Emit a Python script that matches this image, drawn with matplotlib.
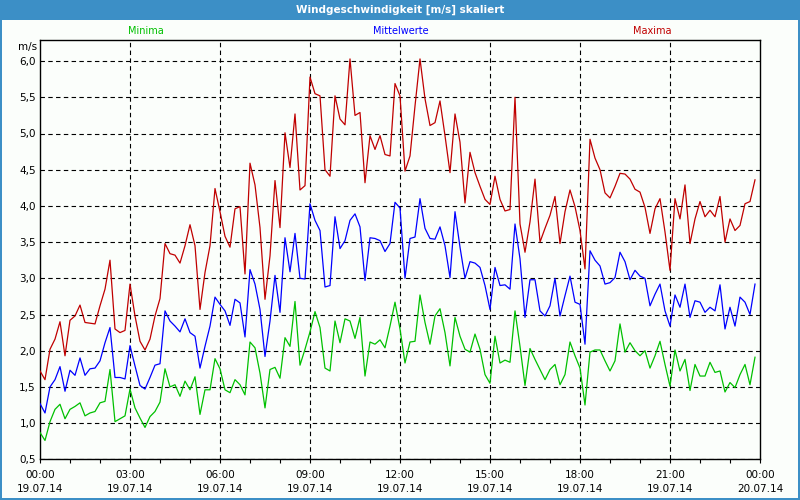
import numpy as np
import matplotlib
matplotlib.use("Agg")
import matplotlib.pyplot as plt
from matplotlib.patches import Rectangle

plt.rcParams['font.family'] = ['DejaVu Sans']

# 10-minute values, 19.07.14 00:00 .. 23:50
minima = [0.87,0.76,1.02,1.19,1.26,1.06,1.19,1.23,1.28,1.10,1.14,1.16,1.28,1.30,1.74,1.02,1.06,1.10,1.47,1.21,1.07,0.94,1.09,1.16,1.29,
          1.75,1.50,1.53,1.37,1.58,1.46,1.64,1.12,1.46,1.46,1.89,1.75,1.46,1.42,1.60,1.53,1.39,2.12,2.04,1.69,1.21,1.74,1.77,
          1.62,2.18,2.06,2.68,1.80,2.02,2.26,2.54,2.32,1.76,1.72,2.41,2.11,2.44,2.41,2.17,2.46,1.65,2.12,2.09,2.15,2.04,2.34,2.67,2.30,
          1.83,2.12,2.13,2.77,2.39,2.09,2.48,2.58,2.25,1.79,2.46,2.20,2.02,1.98,2.23,2.02,1.67,1.55,2.20,1.83,1.87,1.84,2.55,2.06,
          1.52,2.03,1.88,1.74,1.60,1.74,1.81,1.53,1.67,2.12,1.93,1.76,1.25,1.98,2.01,
          2.01,1.86,1.72,1.86,2.37,1.98,2.11,2.00,1.93,2.00,1.76,1.93,2.13,1.81,1.51,2.01,1.72,1.88,1.45,1.81,1.65,1.65,1.84,1.70,
          1.72,1.43,1.56,1.49,1.67,1.81,1.53,1.91]
mittel = [1.27,1.14,1.50,1.60,1.78,1.44,1.73,1.66,1.90,1.66,1.75,1.76,1.86,2.11,2.32,1.63,1.63,1.61,2.07,1.79,1.52,1.47,1.63,1.80,1.82,
          2.55,2.41,2.34,2.26,2.44,2.25,2.20,1.76,2.06,2.34,2.74,2.64,2.55,2.35,2.71,2.66,2.19,3.12,2.92,2.57,1.92,2.41,3.04,
          2.53,3.56,3.09,3.62,3.00,2.99,4.03,3.80,3.66,2.88,2.90,3.85,3.41,3.52,3.80,3.89,3.71,2.97,3.56,3.55,3.52,3.37,3.48,4.05,3.97,
          3.00,3.55,3.57,4.10,3.69,3.55,3.54,3.71,3.45,3.01,3.92,3.43,3.00,3.23,3.21,3.15,2.90,2.57,3.15,2.90,2.91,2.85,3.75,3.27,
          2.46,2.98,2.98,2.55,2.48,2.62,3.00,2.48,2.76,3.03,2.67,2.64,2.09,3.38,3.25,
          3.17,2.92,2.94,3.01,3.36,3.23,2.98,3.11,3.03,3.00,2.62,2.78,2.92,2.55,2.34,2.77,2.60,2.92,2.46,2.69,2.67,2.53,2.60,2.55,
          2.91,2.30,2.60,2.34,2.74,2.67,2.50,2.92]
maxima = [1.72,1.60,2.02,2.16,2.40,1.93,2.42,2.48,2.63,2.39,2.38,2.37,2.62,2.85,3.25,2.30,2.25,2.28,2.92,2.48,2.13,2.01,2.16,2.48,2.72,
          3.48,3.34,3.32,3.21,3.45,3.74,3.45,2.57,3.08,3.45,4.24,3.92,3.58,3.43,3.96,3.99,3.06,4.59,4.29,3.70,2.71,3.31,4.35,
          3.70,5.01,4.53,5.27,4.22,4.28,5.78,5.55,5.52,4.50,4.41,5.52,5.20,5.12,6.03,5.25,5.29,4.32,4.97,4.78,4.97,4.71,4.69,5.69,5.52,
          4.48,4.69,5.38,6.03,5.48,5.11,5.15,5.45,4.97,4.46,5.27,4.88,4.04,4.74,4.46,4.27,4.09,4.02,4.41,4.09,3.93,3.95,5.50,3.75,
          3.36,3.78,4.37,3.50,3.69,3.87,4.13,3.48,3.92,4.22,3.99,3.66,3.13,4.92,4.66,
          4.50,4.18,4.11,4.27,4.45,4.44,4.37,4.23,4.19,3.98,3.62,3.96,4.10,3.64,3.11,4.10,3.82,4.29,3.48,3.82,4.06,3.85,3.94,3.85,
          4.13,3.50,3.82,3.66,3.73,4.03,4.06,4.36]
tick_hours = [0, 3, 6, 9, 12, 15, 18, 21, 24]
tick_labels = ["00:00\n19.07.14", "03:00\n19.07.14", "06:00\n19.07.14", "09:00\n19.07.14",
               "12:00\n19.07.14", "15:00\n19.07.14", "18:00\n19.07.14", "21:00\n19.07.14",
               "00:00\n20.07.14"]
y_ticks = [0.5, 1.0, 1.5, 2.0, 2.5, 3.0, 3.5, 4.0, 4.5, 5.0, 5.5, 6.0]

hours = np.arange(len(mittel)) / 6.0

frame_c = "#3c8fc6"
panel_c = "#fbfefb"
green_c = "#00c000"
blue_c = "#0000ff"
red_c = "#c00000"

fig = plt.figure(figsize=(8, 5), dpi=100)
fig.patch.set_facecolor(frame_c)
fig.add_artist(Rectangle((2/800, 2/500), 796/800, 478/500, transform=fig.transFigure,
                         facecolor=panel_c, edgecolor="none", zorder=0))
fig.text(0.5, 1 - 10/500, "Windgeschwindigkeit [m/s] skaliert", color="white",
         fontsize=7.5, fontweight="bold", ha="center", va="center")

ax = fig.add_axes([40/800, (500-459.3)/500, 720/800, 419.3/500])
ax.set_facecolor(panel_c)

ax.plot(hours, minima, color=green_c, lw=0.9, zorder=3)
ax.plot(hours, mittel, color=blue_c, lw=0.9, zorder=3)
ax.plot(hours, maxima, color=red_c, lw=0.9, zorder=3)

ax.set_xlim(0, 24)
ax.set_ylim(0.5, 0.5 + 419.3/72.4)
ax.set_xticks(tick_hours)
ax.set_xticklabels(tick_labels, fontsize=7.5, linespacing=1.5)
ax.set_xticks(range(25), minor=True)
ax.set_yticks(y_ticks)
ax.set_yticklabels([f"{v:.1f}".replace(".", ",") for v in y_ticks], fontsize=7.5)
ax.tick_params(axis="x", which="both", direction="out", length=3, width=0.8, pad=5, color="black")
ax.tick_params(axis="y", length=0, pad=3)

for v in y_ticks:
    ax.axhline(v, color="black", lw=0.8, dashes=(4, 3), zorder=1)
for h in tick_hours[1:-1]:
    ax.axvline(h, color="black", lw=0.8, dashes=(4, 3), zorder=1)

for s in ax.spines.values():
    s.set_linewidth(1.0)
    s.set_color("black")

fig.text(37/800, 1 - 47/500, "m/s", fontsize=7.5, ha="right", va="center")
fig.text(146/800, 1 - 31/500, "Minima", fontsize=7, color=green_c, ha="center", va="center")
fig.text(401/800, 1 - 31/500, "Mittelwerte", fontsize=7, color=blue_c, ha="center", va="center")
fig.text(652/800, 1 - 31/500, "Maxima", fontsize=7, color=red_c, ha="center", va="center")

fig.savefig("out.png", dpi=100, facecolor=fig.get_facecolor())
